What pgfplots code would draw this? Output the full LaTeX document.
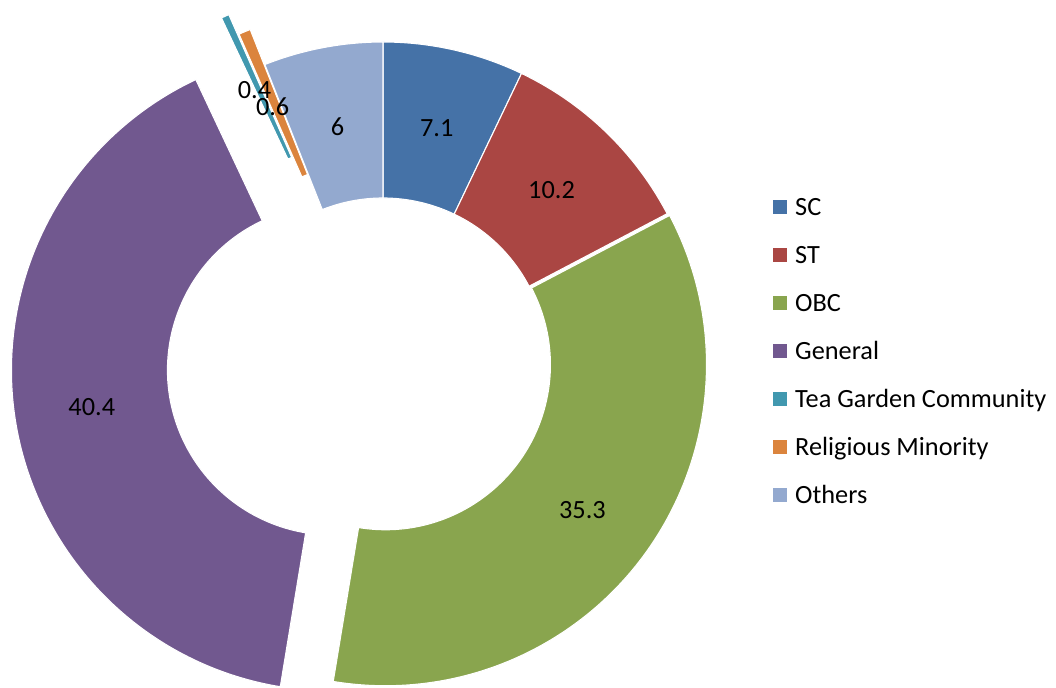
\documentclass[border=0pt]{standalone}
\usepackage{pgfplots}
\pgfplotsset{compat=1.18}
\usepackage{pgfplotstable}
\usepackage{fontspec}
\setmainfont{Carlito}
\usetikzlibrary{calc}

\definecolor{c0}{HTML}{4572A7}
\definecolor{c1}{HTML}{AA4643}
\definecolor{c2}{HTML}{89A54E}
\definecolor{c3}{HTML}{71588F}
\definecolor{c4}{HTML}{4198AF}
\definecolor{c5}{HTML}{DB843D}
\definecolor{c6}{HTML}{93A9CF}

% value, explosion distance (px), label nudge (px)
\pgfplotstableread[col sep=comma]{
label,value,explode,ldx,ldy
SC,7.1,0,0,-2
ST,10.2,0,0,-2
OBC,35.3,3,0,-3
General,40.4,51,0,-4
Tea Garden Community,0.4,60,-3,-3
Religious Minority,0.6,38,-2,-3
Others,6,0,0,-2
}\datatable

\def\cx{383}
\def\cy{325}
\xdef\cum{0}
\foreach \i in {0,...,6}{%
  \pgfplotstablegetelem{\i}{value}\of\datatable \global\let\v\pgfplotsretval
  \pgfplotstablegetelem{\i}{explode}\of\datatable \global\let\d\pgfplotsretval
  \pgfplotstablegetelem{\i}{ldx}\of\datatable \global\let\ldx\pgfplotsretval
  \pgfplotstablegetelem{\i}{ldy}\of\datatable \global\let\ldy\pgfplotsretval
  \pgfmathsetmacro\a{90-3.6*\cum}%
  \pgfmathsetmacro\b{90-3.6*(\cum+\v)}%
  \pgfmathsetmacro\m{(\a+\b)/2}%
  \pgfmathsetmacro\ox{\cx+\d*cos(\m)}%
  \pgfmathsetmacro\oy{\cy+\d*sin(\m)}%
  \pgfmathsetmacro\lx{\ox+243*cos(\m)+\ldx}%
  \pgfmathsetmacro\ly{\oy+243*sin(\m)+\ldy}%
  \expandafter\xdef\csname sa\i\endcsname{\a}%
  \expandafter\xdef\csname sb\i\endcsname{\b}%
  \expandafter\xdef\csname ox\i\endcsname{\ox}%
  \expandafter\xdef\csname oy\i\endcsname{\oy}%
  \expandafter\xdef\csname lx\i\endcsname{\lx}%
  \expandafter\xdef\csname ly\i\endcsname{\ly}%
  \expandafter\xdef\csname lab\i\endcsname{\v}%
  \pgfmathsetmacro\newcum{\cum+\v}%
  \xdef\cum{\newcum}%
}

\begin{document}
\begin{tikzpicture}
\begin{axis}[name=ax, x=1bp,y=1bp,xmin=0,xmax=1056,ymin=0,ymax=688,
  hide axis, scale only axis, clip=false]
\pgfplotsinvokeforeach{0,...,6}{%
  \coordinate (O#1) at (axis cs:\csname ox#1\endcsname,\csname oy#1\endcsname);
  \fill[c#1, draw=white, line width=1.1bp, line join=miter]
    ($(O#1)+(\csname sa#1\endcsname:321bp)$)
    arc[start angle=\csname sa#1\endcsname, end angle=\csname sb#1\endcsname, radius=321bp]
    -- ($(O#1)+(\csname sb#1\endcsname:165bp)$)
    arc[start angle=\csname sb#1\endcsname, end angle=\csname sa#1\endcsname, radius=165bp]
    -- cycle;
}
\pgfplotsinvokeforeach{0,...,6}{%
  \node[font=\fontsize{26.4}{31}\selectfont, inner sep=0pt] at (axis cs:\csname lx#1\endcsname,\csname ly#1\endcsname) {\csname lab#1\endcsname};
}
% legend
\pgfplotsinvokeforeach{0,...,6}{%
  \fill[c#1] (axis cs:773,{474-48*#1}) rectangle (axis cs:787,{488-48*#1});
}
\node[anchor=base west, inner sep=0pt, font=\fontsize{26.4}{31}\selectfont] at (axis cs:795,472.6) {SC};
\node[anchor=base west, inner sep=0pt, font=\fontsize{26.4}{31}\selectfont] at (axis cs:795,424.6) {ST};
\node[anchor=base west, inner sep=0pt, font=\fontsize{26.4}{31}\selectfont] at (axis cs:795,376.6) {OBC};
\node[anchor=base west, inner sep=0pt, font=\fontsize{26.4}{31}\selectfont] at (axis cs:795,328.6) {General};
\node[anchor=base west, inner sep=0pt, font=\fontsize{26.4}{31}\selectfont] at (axis cs:795,280.6) {Tea Garden Community};
\node[anchor=base west, inner sep=0pt, font=\fontsize{26.4}{31}\selectfont] at (axis cs:795,232.6) {Religious Minority};
\node[anchor=base west, inner sep=0pt, font=\fontsize{26.4}{31}\selectfont] at (axis cs:795,184.6) {Others};
\end{axis}
\pgfresetboundingbox
\path (ax.south west) rectangle (ax.north east);
\end{tikzpicture}
\end{document}
